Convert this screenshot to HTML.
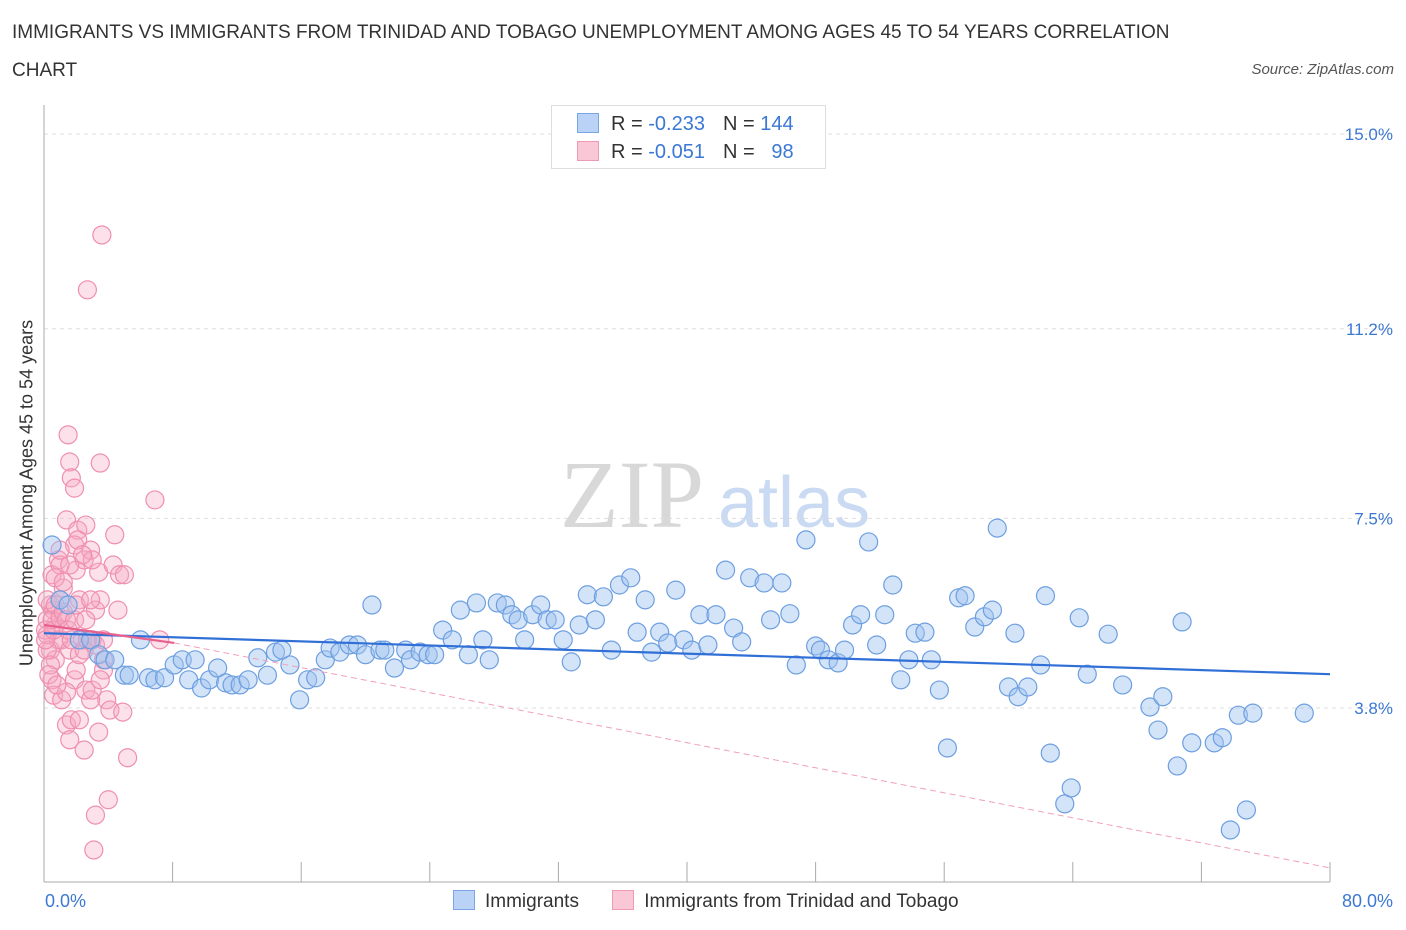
<!DOCTYPE html>
<html><head><meta charset="utf-8">
<style>
body{margin:0;background:#fff;font-family:"Liberation Sans",sans-serif;}
#wrap{position:relative;width:1406px;height:930px;overflow:hidden;}
.t{position:absolute;white-space:nowrap;}
</style></head>
<body>
<div id="wrap">
<div class="t" style="left:12px;top:14px;font-size:19px;color:#333;line-height:38px;width:1165px;white-space:normal;">IMMIGRANTS VS IMMIGRANTS FROM TRINIDAD AND TOBAGO UNEMPLOYMENT AMONG AGES 45 TO 54 YEARS CORRELATION CHART</div>
<div class="t" style="right:12px;top:61px;font-size:15px;color:#555;font-style:italic;">Source: ZipAtlas.com</div>
<svg id="svg" width="1406" height="930" style="position:absolute;left:0;top:0"></svg>
</div>
<script>
const yTicks=[15.0,11.2,7.5,3.8];
const yTickLabels=["15.0%","11.2%","7.5%","3.8%"];
const xMin=0,xMax=80,yMin=0.4,yMax=15.0;
const blueX=[0.5,1.0,1.5,2.2,2.9,3.4,3.8,4.4,5.0,5.3,6.0,6.5,6.9,7.5,8.1,8.6,9.0,9.4,9.8,10.3,10.8,11.3,11.7,12.2,12.7,13.3,13.9,14.4,14.8,15.3,15.9,16.4,16.9,17.5,17.8,18.4,19.0,19.5,20.0,20.4,20.9,21.2,21.8,22.5,22.8,23.4,23.9,24.3,24.8,25.4,25.9,26.4,26.9,27.3,27.7,28.2,28.7,29.1,29.5,29.9,30.4,30.9,31.3,31.8,32.3,32.8,33.3,33.8,34.3,34.8,35.3,35.8,36.5,36.9,37.4,37.8,38.3,38.8,39.3,39.8,40.3,40.8,41.3,41.8,42.4,42.9,43.4,43.9,44.8,45.2,45.9,46.4,46.8,47.4,48.0,48.3,48.8,49.4,49.8,50.3,50.8,51.3,51.8,52.3,52.8,53.3,53.8,54.2,54.8,55.2,55.7,56.2,56.9,57.3,57.9,58.5,59.0,59.3,60.0,60.4,60.6,61.2,62.0,62.3,62.6,63.5,63.9,64.4,64.9,66.2,67.1,68.8,69.3,69.6,70.5,70.8,71.4,72.8,73.3,73.8,74.3,74.8,75.2,78.4];
const blueY=[6.98,5.91,5.81,5.13,5.13,4.84,4.74,4.74,4.44,4.44,5.13,4.39,4.35,4.39,4.64,4.74,4.35,4.74,4.19,4.35,4.58,4.29,4.25,4.25,4.35,4.78,4.44,4.89,4.93,4.64,3.96,4.35,4.39,4.74,4.97,4.89,5.03,5.03,4.84,5.81,4.93,4.93,4.58,4.93,4.74,4.89,4.84,4.84,5.32,5.13,5.71,4.84,5.85,5.13,4.74,5.85,5.81,5.62,5.52,5.13,5.62,5.81,5.52,5.52,5.13,4.70,5.42,6.01,5.52,5.97,4.93,6.20,6.34,5.28,5.91,4.89,5.28,5.07,6.10,5.13,4.93,5.62,5.03,5.62,6.49,5.36,5.09,6.34,6.24,5.52,6.24,5.64,4.64,7.08,5.01,4.93,4.74,4.68,4.93,5.42,5.62,7.04,5.03,5.62,6.20,4.35,4.74,5.26,5.28,4.74,4.15,3.02,5.95,5.99,5.38,5.58,5.71,7.31,4.21,5.26,4.02,4.21,4.64,5.99,2.92,1.93,2.24,5.56,4.46,5.24,4.25,3.82,3.37,4.02,2.67,5.48,3.12,3.12,3.22,1.42,3.66,1.81,3.70,3.70];
const pinkX=[0.4,0.5,0.6,0.7,0.9,1.0,1.1,1.2,1.4,1.5,1.6,1.7,1.9,2.0,2.1,2.2,2.4,2.5,2.6,2.7,2.9,3.0,3.2,3.4,3.5,3.6,3.7,3.9,4.1,4.3,4.4,4.6,4.7,4.9,5.0,6.9,3.5,7.2,0.4,0.5,0.6,0.7,0.9,1.1,1.4,1.6,1.7,1.9,2.0,2.2,2.5,2.6,2.9,3.0,3.2,3.4,3.7,4.0,3.2,3.1,5.2,0.2,0.2,0.2,0.4,0.1,0.1,0.2,0.5,0.6,0.7,1.0,1.0,1.2,1.4,1.5,1.6,1.7,1.9,2.0,2.2,2.5,2.6,2.7,2.9,3.0,1.6,1.9,2.1,2.4,1.0,0.7,1.2,1.4,3.5,3.7,0.3,0.8];
const pinkY=[5.81,6.40,5.71,5.42,6.69,6.59,5.13,6.14,7.47,9.13,8.60,8.29,8.09,6.49,7.27,5.91,5.13,6.69,7.37,11.96,6.88,5.13,5.71,6.45,5.91,13.03,4.74,3.96,3.76,6.59,7.18,5.71,6.40,3.72,6.40,7.86,8.58,5.13,4.93,4.35,4.05,4.74,5.13,3.96,3.47,3.18,3.57,4.35,4.54,3.57,2.98,4.15,3.96,4.15,5.03,3.33,4.54,2.01,1.71,1.03,2.83,5.52,4.93,5.23,4.64,5.32,5.13,5.91,5.52,5.32,5.81,5.91,5.56,5.67,5.52,5.32,4.93,5.13,5.52,5.81,4.84,4.93,5.52,5.13,5.91,6.69,6.59,6.98,7.08,6.79,6.88,6.34,6.26,4.11,4.35,5.13,4.45,4.25];
const blueTrend=[[0,5.26],[80,4.46]];
const pinkTrend=[[0,5.42],[8.1,5.07]];
const pinkDash=[[8.1,5.07],[80,0.68]];

const L=44,R=1330,T=134,B=882;
const xs=v=>L+(v-xMin)/(xMax-xMin)*(R-L);
const ys=v=>708+(3.8-v)*(574/11.2);
const svg=document.getElementById('svg');
const NS='http://www.w3.org/2000/svg';
function mk(tag,attrs,parent){const e=document.createElementNS(NS,tag);for(const k in attrs)e.setAttribute(k,attrs[k]);(parent||svg).appendChild(e);return e;}

let wm=mk('text',{x:632,y:527,'font-size':96,'font-family':'Liberation Serif,serif',fill:'#d8d8d8','text-anchor':'middle'});


wm.textContent='ZIP';
let wm2=mk('text',{x:718,y:527,'font-size':72,'font-family':'Liberation Sans,sans-serif',fill:'#c9daf2'});


wm2.textContent='atlas';

yTicks.forEach((v,i)=>{
  const g=mk('line',{x1:L,x2:R+60,y1:ys(v),y2:ys(v),stroke:'#ddd','stroke-dasharray':'4,4'});
  
  
  const t=mk('text',{x:1393,y:ys(v)+6,'font-size':17,fill:'#3b78d4','text-anchor':'end'});
  
  
  t.textContent=yTickLabels[i];
});
let ax=mk('line',{x1:L,x2:L,y1:105,y2:B,stroke:'#aaa'});


let bx=mk('line',{x1:L,x2:R,y1:B,y2:B,stroke:'#aaa'});


for(let k=0;k<=10;k++){
  const tk=mk('line',{x1:xs(k*8),x2:xs(k*8),y1:862,y2:B,stroke:'#aaa'});
  
  
}
function pts(X,Y,fill,stroke,name){
  X.forEach((x,i)=>{
    const c=mk('circle',{cx:xs(x),cy:ys(Y[i]),r:9,fill:fill,stroke:stroke,'stroke-width':1.2});
    
    
  });
}
pts(pinkX,pinkY,'rgba(246,170,196,0.35)','#ef8fb0','point-trinidad');
pts(blueX,blueY,'rgba(160,195,240,0.45)','#6d9fe0','point-immigrants');
let pd=mk('line',{x1:xs(pinkDash[0][0]),y1:ys(pinkDash[0][1]),x2:xs(pinkDash[1][0]),y2:ys(pinkDash[1][1]),stroke:'#f0a0bc','stroke-dasharray':'6,4','stroke-width':1});


let bt=mk('line',{x1:xs(blueTrend[0][0]),y1:ys(blueTrend[0][1]),x2:xs(blueTrend[1][0]),y2:ys(blueTrend[1][1]),stroke:'#2f6fd6','stroke-width':2.2});


let pt=mk('line',{x1:xs(pinkTrend[0][0]),y1:ys(pinkTrend[0][1]),x2:xs(pinkTrend[1][0]),y2:ys(pinkTrend[1][1]),stroke:'#e8608e','stroke-width':2.2});


</script>
<div class="t" style="left:27px;top:493px;font-size:18px;color:#333;transform:translate(-50%,-50%) rotate(-90deg);">Unemployment Among Ages 45 to 54 years</div>
<div class="t" style="left:45px;top:891px;font-size:18px;color:#3b78d4;">0.0%</div>
<div class="t" style="right:13px;top:891px;font-size:18px;color:#3b78d4;">80.0%</div>
<div style="position:absolute;left:551px;top:105px;width:273px;height:62px;border:1px solid #ddd;background:#fff;font-size:20px;color:#333;">
  <div style="position:absolute;left:25px;top:7px;white-space:nowrap;"><span style="display:inline-block;width:20px;height:18px;background:#b9d2f5;border:1px solid #7aa6e6;vertical-align:-3px;"></span><span style="margin-left:12px;">R = </span><span style="color:#3b78d4">-0.233</span><span style="margin-left:18px;">N = </span><span style="color:#3b78d4">144</span></div>
  <div style="position:absolute;left:25px;top:35px;white-space:nowrap;"><span style="display:inline-block;width:20px;height:18px;background:#f9c7d6;border:1px solid #ee9ab5;vertical-align:-3px;"></span><span style="margin-left:12px;">R = </span><span style="color:#3b78d4">-0.051</span><span style="margin-left:18px;">N = </span><span style="color:#3b78d4">&nbsp;&nbsp;98</span></div>
</div>
<div style="position:absolute;left:453px;top:890px;font-size:19px;color:#333;white-space:nowrap;">
  <span><span style="display:inline-block;width:20px;height:18px;background:#b9d2f5;border:1px solid #7aa6e6;vertical-align:-3px;"></span><span style="margin-left:10px;">Immigrants</span></span>
  <span style="margin-left:28px;"><span style="display:inline-block;width:20px;height:18px;background:#f9c7d6;border:1px solid #ee9ab5;vertical-align:-3px;"></span><span style="margin-left:10px;">Immigrants from Trinidad and Tobago</span></span>
</div>
</body></html>
